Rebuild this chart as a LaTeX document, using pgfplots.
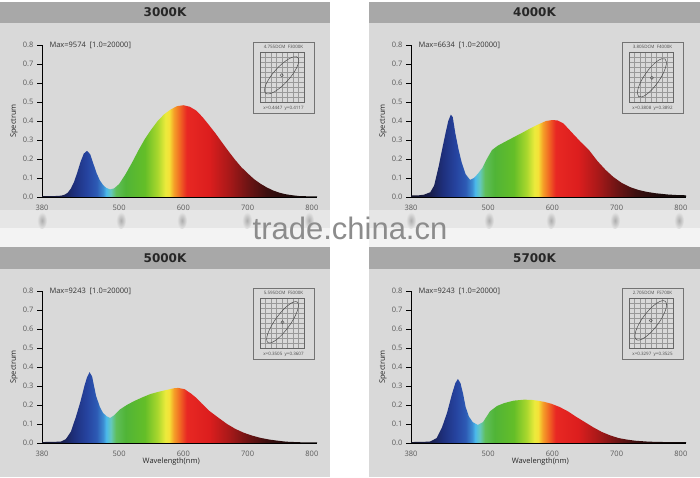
\documentclass[border=0pt]{standalone}
\usepackage{fontspec}
\setmainfont{Open Sans}
\newfontfamily\titlefont{DejaVu Sans}
\newfontfamily\wmfont{Liberation Sans}
\usepackage{pgfplots}
\usepackage{pgfplotstable}
\pgfplotsset{compat=1.18}
\definecolor{hdr}{HTML}{A8A8A8}
\definecolor{pbg}{HTML}{D9D9D9}
\definecolor{band}{HTML}{E6E6E6}
\definecolor{band2}{HTML}{F3F3F3}
\definecolor{tk}{HTML}{5A5A5A}
\definecolor{wm}{HTML}{8C8C8C}

\definecolor{s01}{RGB}{20,20,40}
\definecolor{s02}{RGB}{25,30,75}
\definecolor{s03}{RGB}{30,48,125}
\definecolor{s04}{RGB}{38,68,160}
\definecolor{s05}{RGB}{45,90,180}
\definecolor{s06}{RGB}{60,140,210}
\definecolor{s07}{RGB}{75,185,235}
\definecolor{s08}{RGB}{100,200,190}
\definecolor{s09}{RGB}{95,190,90}
\definecolor{s10}{RGB}{80,180,55}
\definecolor{s11}{RGB}{100,190,40}
\definecolor{s12}{RGB}{170,215,45}
\definecolor{s13}{RGB}{235,235,60}
\definecolor{s14}{RGB}{245,225,55}
\definecolor{s15}{RGB}{245,160,40}
\definecolor{s16}{RGB}{240,100,35}
\definecolor{s17}{RGB}{232,40,35}
\definecolor{s18}{RGB}{220,30,30}
\definecolor{s19}{RGB}{170,25,25}
\definecolor{s20}{RGB}{110,20,20}
\definecolor{s21}{RGB}{60,15,15}
\definecolor{s22}{RGB}{25,10,10}
\definecolor{s23}{RGB}{15,10,10}

\pgfdeclarehorizontalshading{spec}{100bp}{%
color(0bp)=(s01);
color(25bp)=(s01);
color(28.5bp)=(s02);
color(30.84bp)=(s03);
color(33.18bp)=(s04);
color(34.93bp)=(s05);
color(36.1bp)=(s06);
color(36.68bp)=(s07);
color(37.5bp)=(s08);
color(38.44bp)=(s09);
color(40.19bp)=(s10);
color(43.69bp)=(s11);
color(46.03bp)=(s12);
color(47.43bp)=(s13);
color(48.13bp)=(s14);
color(48.95bp)=(s15);
color(50.12bp)=(s16);
color(51.29bp)=(s17);
color(55.37bp)=(s18);
color(58.88bp)=(s19);
color(62.38bp)=(s20);
color(65.89bp)=(s21);
color(70.56bp)=(s22);
color(75bp)=(s23);
color(100bp)=(s23)}

% 3000K
\pgfplotstableread{
x y
380 0.004
390 0.004
400 0.005
410 0.007
415 0.012
420 0.022
425 0.045
430 0.080
435 0.130
440 0.185
445 0.228
450 0.243
455 0.225
460 0.175
465 0.125
470 0.088
475 0.063
480 0.048
486 0.040
492 0.045
500 0.068
510 0.120
520 0.180
530 0.245
540 0.305
550 0.355
560 0.400
570 0.435
580 0.460
590 0.478
600 0.483
610 0.475
620 0.455
630 0.420
640 0.378
650 0.335
660 0.288
670 0.242
680 0.198
690 0.158
700 0.125
710 0.094
720 0.070
730 0.050
740 0.034
750 0.022
760 0.014
770 0.009
780 0.005
790 0.004
800 0.003
808 0.003
}\tA
% 4000K
\pgfplotstableread{
x y
380 0.008
390 0.008
400 0.012
410 0.025
416 0.060
423 0.160
429 0.260
434 0.340
438 0.400
442 0.434
445 0.420
449 0.335
454 0.250
459 0.180
465 0.120
472 0.090
478 0.100
484 0.122
491 0.153
498 0.200
506 0.247
515 0.270
526 0.290
540 0.315
552 0.336
565 0.360
577 0.380
590 0.400
600 0.405
608 0.403
617 0.388
631 0.337
644 0.290
657 0.247
670 0.190
683 0.142
695 0.105
708 0.074
721 0.052
734 0.037
747 0.027
760 0.020
780 0.013
795 0.010
808 0.009
}\tB
% 5000K
\pgfplotstableread{
x y
380 0.005
400 0.006
410 0.008
417 0.020
425 0.060
433 0.140
440 0.220
446 0.300
450 0.345
454 0.373
458 0.350
464 0.250
470 0.190
475 0.158
481 0.140
486 0.132
492 0.145
501 0.176
512 0.200
523 0.220
536 0.240
549 0.258
562 0.270
575 0.280
585 0.288
592 0.290
602 0.283
612 0.260
620 0.238
628 0.210
640 0.170
655 0.132
668 0.100
681 0.074
694 0.054
707 0.039
720 0.027
734 0.018
747 0.012
760 0.007
780 0.004
808 0.003
}\tC
% 5700K
\pgfplotstableread{
x y
380 0.005
400 0.006
410 0.008
420 0.026
428 0.080
436 0.158
444 0.260
449 0.315
453 0.337
457 0.315
461 0.260
465 0.190
470 0.140
476 0.110
484 0.095
492 0.110
503 0.167
514 0.195
525 0.210
540 0.223
556 0.228
567 0.227
577 0.223
588 0.216
598 0.207
611 0.190
624 0.167
637 0.138
651 0.109
664 0.082
677 0.058
690 0.040
703 0.026
716 0.018
729 0.012
750 0.007
775 0.005
808 0.004
}\tD

\pgfplotsset{
  specaxis/.style={
    scale only axis, width=275pt, height=152pt, anchor=south west,
    xmin=380, xmax=808, ymin=0, ymax=0.8, clip=false,
    axis lines=left, axis line style={-, black, line width=0.8pt},
    xtick={380,500,600,700,800},
    ytick={0,0.1,0.2,0.3,0.4,0.5,0.6,0.7,0.8},
    yticklabel style={/pgf/number format/.cd, fixed, fixed zerofill, precision=1},
    /pgf/number format/assume math mode=true,
    tick label style={font=\fontsize{7.5}{8}\selectfont, text=tk},
    xtick style={draw=none},
    ytick style={draw=black, line width=0.6pt},
    tick align=outside, major tick length=5pt,
    ylabel={Spectrum},
    label style={font=\fontsize{7.5}{8}\selectfont, text=black!85},
    ylabel style={at={(axis description cs:-0.102,0.5)}, anchor=center},
    xlabel style={at={(axis description cs:0.47,-0.125)}, anchor=center},
  },
  insetaxis/.style={
    scale only axis, width=44pt, height=50pt, anchor=south west,
    xtick distance=0.005, ytick distance=0.005,
    xticklabels={}, yticklabels={}, major tick length=0pt,
    grid=major, major grid style={draw=black!40, line width=0.3pt},
    axis line style={black!60, line width=0.4pt}, clip=false,
  },
}

\begin{document}
\begin{tikzpicture}[x=1pt,y=1pt]
\fill[white] (0,0) rectangle (700,478);
% panel backgrounds
\fill[pbg] (0,267) rectangle (330,455);
\fill[hdr] (0,455) rectangle (330,476);
\fill[pbg] (369,267) rectangle (700,455);
\fill[hdr] (369,455) rectangle (700,476);
\fill[pbg] (0,1) rectangle (330,209);
\fill[hdr] (0,209) rectangle (330,231);
\fill[pbg] (369,1) rectangle (700,209);
\fill[hdr] (369,209) rectangle (700,231);
% band between rows
\fill[band2] (0,231) rectangle (330,250);
\fill[band2] (369,231) rectangle (700,250);
\fill[band] (0,250) rectangle (330,268);
\fill[band] (369,250) rectangle (700,268);
\foreach \u in {42,121,182,247,309,411,489,551,615,679}{
  \shade[inner color=black!32, outer color=band] (\u,257.5) ellipse [x radius=5, y radius=8.5];
}
% titles
\node[font=\titlefont\bfseries\fontsize{12}{12}\selectfont, text=black!85] at (165,466) {3000K};
\node[font=\titlefont\bfseries\fontsize{12}{12}\selectfont, text=black!85] at (534.5,466) {4000K};
\node[font=\titlefont\bfseries\fontsize{12}{12}\selectfont, text=black!85] at (165,220) {5000K};
\node[font=\titlefont\bfseries\fontsize{12}{12}\selectfont, text=black!85] at (534.5,220) {5700K};

% ---- 3000K
\begin{axis}[specaxis, at={(42pt,281pt)}]
\addplot[draw=none, shade, shading=spec] table {\tA} \closedcycle;
\node[anchor=west, font=\fontsize{7.5}{8}\selectfont, text=black!80, xshift=4pt] at (axis cs:380,0.8) {Max=9574\ \ [1.0=20000]};
\end{axis}
% ---- 4000K
\begin{axis}[specaxis, at={(411pt,281pt)}]
\addplot[draw=none, shade, shading=spec] table {\tB} \closedcycle;
\node[anchor=west, font=\fontsize{7.5}{8}\selectfont, text=black!80, xshift=4pt] at (axis cs:380,0.8) {Max=6634\ \ [1.0=20000]};
\end{axis}
% ---- 5000K
\begin{axis}[specaxis, at={(42pt,35pt)}, xlabel={Wavelength(nm)}]
\addplot[draw=none, shade, shading=spec] table {\tC} \closedcycle;
\node[anchor=west, font=\fontsize{7.5}{8}\selectfont, text=black!80, xshift=4pt] at (axis cs:380,0.8) {Max=9243\ \ [1.0=20000]};
\end{axis}
% ---- 5700K
\begin{axis}[specaxis, at={(411pt,35pt)}, xlabel={Wavelength(nm)}]
\addplot[draw=none, shade, shading=spec] table {\tD} \closedcycle;
\node[anchor=west, font=\fontsize{7.5}{8}\selectfont, text=black!80, xshift=4pt] at (axis cs:380,0.8) {Max=9243\ \ [1.0=20000]};
\end{axis}

% ---- insets
\draw[black!55, line width=0.5pt] (253.5,365) rectangle (314,436);
\node[font=\fontsize{4.5}{5}\selectfont, text=black!70] at (283.5,431) {4.755DCM\ \ F3000K};
\node[font=\fontsize{4.5}{5}\selectfont, text=black!70] at (283.5,369.5) {x=0.4447\ \ y=0.4117};
\begin{axis}[insetaxis, at={(260pt,376pt)}, xmin=0.425, xmax=0.465, ymin=0.385, ymax=0.435]
\addplot[only marks, mark=o, mark size=1.6pt, black!70, mark options={line width=0.4pt}] coordinates {(0.4447,0.4117)};
\coordinate (e1) at (axis cs:0.4447,0.4117);
\end{axis}
\draw[black!70, line width=0.5pt, rotate around={48:(e1)}] (e1) ellipse [x radius=24pt, y radius=8pt];

\draw[black!55, line width=0.5pt] (622.5,365) rectangle (683,436);
\node[font=\fontsize{4.5}{5}\selectfont, text=black!70] at (652.5,431) {3.805DCM\ \ F4000K};
\node[font=\fontsize{4.5}{5}\selectfont, text=black!70] at (652.5,369.5) {x=0.3808\ \ y=0.3892};
\begin{axis}[insetaxis, at={(629pt,376pt)}, xmin=0.36, xmax=0.40, ymin=0.365, ymax=0.415]
\addplot[only marks, mark=o, mark size=1.6pt, black!70, mark options={line width=0.4pt}] coordinates {(0.3808,0.3892)};
\coordinate (e2) at (axis cs:0.3808,0.3892);
\end{axis}
\draw[black!70, line width=0.5pt, rotate around={55:(e2)}] (e2) ellipse [x radius=23pt, y radius=7.5pt];

\draw[black!55, line width=0.5pt] (253.5,119) rectangle (314,190);
\node[font=\fontsize{4.5}{5}\selectfont, text=black!70] at (283.5,185) {5.595DCM\ \ F5000K};
\node[font=\fontsize{4.5}{5}\selectfont, text=black!70] at (283.5,123.5) {x=0.3505\ \ y=0.3607};
\begin{axis}[insetaxis, at={(260pt,130pt)}, xmin=0.33, xmax=0.37, ymin=0.335, ymax=0.385]
\addplot[only marks, mark=o, mark size=1.6pt, black!70, mark options={line width=0.4pt}] coordinates {(0.3505,0.3607)};
\coordinate (e3) at (axis cs:0.3505,0.3607);
\end{axis}
\draw[black!70, line width=0.5pt, rotate around={54:(e3)}] (e3) ellipse [x radius=25pt, y radius=7.5pt];

\draw[black!55, line width=0.5pt] (622.5,119) rectangle (683,190);
\node[font=\fontsize{4.5}{5}\selectfont, text=black!70] at (652.5,185) {2.705DCM\ \ F5700K};
\node[font=\fontsize{4.5}{5}\selectfont, text=black!70] at (652.5,123.5) {x=0.3297\ \ y=0.3525};
\begin{axis}[insetaxis, at={(629pt,130pt)}, xmin=0.31, xmax=0.35, ymin=0.325, ymax=0.375]
\addplot[only marks, mark=o, mark size=1.6pt, black!70, mark options={line width=0.4pt}] coordinates {(0.3297,0.3525)};
\coordinate (e4) at (axis cs:0.3297,0.3525);
\end{axis}
\draw[black!70, line width=0.5pt, rotate around={53:(e4)}] (e4) ellipse [x radius=24pt, y radius=8pt];

% watermark
\node[font=\wmfont\fontsize{31}{31}\selectfont, text=wm, anchor=base, inner sep=0pt] at (350,238) {trade.china.cn};
\end{tikzpicture}
\end{document}
